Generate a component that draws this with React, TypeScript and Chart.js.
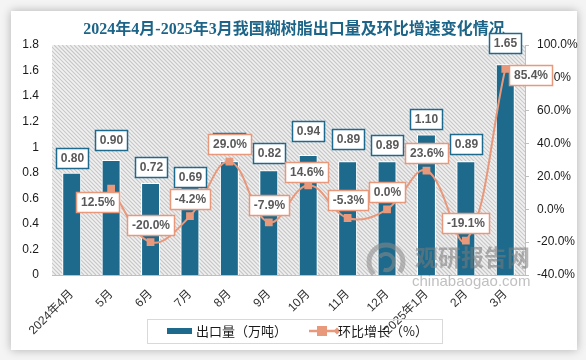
import React, { useEffect, useRef } from "react";
import { Chart, registerables } from "chart.js";

Chart.register(...registerables);

// ---------- data ----------
const chartTitle = "2024年4月-2025年3月我国糊树脂出口量及环比增速变化情况";
const categories = ["2024年4月", "5月", "6月", "7月", "8月", "9月", "10月", "11月", "12月", "2025年1月", "2月", "3月"];
const exportVolume = [0.8, 0.9, 0.72, 0.69, 0.89, 0.82, 0.94, 0.89, 0.89, 1.1, 0.89, 1.65];
const momGrowth: (number | null)[] = [null, 12.5, -20.0, -4.2, 29.0, -7.9, 14.6, -5.3, 0.0, 23.6, -19.1, 85.4];
const volumeTicks = [0, 0.2, 0.4, 0.6, 0.8, 1, 1.2, 1.4, 1.6, 1.8];
const growthTicks = [-40, -20, 0, 20, 40, 60, 80, 100];
const volumeName = "出口量（万吨）";
const growthName = "环比增长（%）";

// ---------- styles ----------
const BAR_COLOR = "#1D6A8D";
const LINE_COLOR = "#E8987B";
const TITLE_COLOR = "#1D6588";
const LABEL_TEXT = "#595959";
const AXIS_GRAY = "#BFBFBF";
// gap (px) between bar top and its label box, per bar
const barLabelGap = [5, 10, 6, 0, 8, 7, 14, 12, 6, 5, 7, 11];
// offset of growth label box centre relative to point
const lineLabelOffset = (i: number): [number, number] => {
  if (i === 1) return [-13.5, 13.5];
  if (i === 11) return [25, 6.5];
  if (i === 6) return [-1.5, -13];
  return [0, -17.5];
};

const LABEL_FONT = "bold 12px 'Liberation Sans', Arial, sans-serif";

function drawLabelBox(ctx: CanvasRenderingContext2D, cx: number, cy: number, text: string, border: string) {
  ctx.save();
  ctx.font = LABEL_FONT;
  const w = Math.round(ctx.measureText(text).width + 9);
  const h = 20;
  const x = Math.round(cx - w / 2) + 0.5;
  const y = Math.round(cy - h / 2) + 0.5;
  ctx.fillStyle = "#ffffff";
  ctx.fillRect(x, y, w, h);
  ctx.lineWidth = 1.5;
  ctx.strokeStyle = border;
  ctx.strokeRect(x, y, w, h);
  ctx.fillStyle = LABEL_TEXT;
  ctx.textAlign = "center";
  ctx.textBaseline = "middle";
  ctx.fillText(text, x + w / 2, y + h / 2 + 0.5);
  ctx.restore();
}

function drawHatch(ctx: CanvasRenderingContext2D, l: number, t: number, r: number, b: number) {
  ctx.save();
  ctx.beginPath();
  ctx.rect(l, t, r - l, b - t);
  ctx.clip();
  ctx.fillStyle = "#f1f1f1";
  ctx.fillRect(l, t, r - l, b - t);
  ctx.strokeStyle = "#c8c8c8";
  ctx.lineWidth = 1.2;
  ctx.beginPath();
  const h = b - t;
  for (let x0 = l - h - 4; x0 < r + 4; x0 += 4) {
    ctx.moveTo(x0, t);
    ctx.lineTo(x0 + h, b);
  }
  ctx.stroke();
  ctx.restore();
}

const decorPlugin = {
  id: "decor",
  beforeDraw(chart: any) {
    const ctx: CanvasRenderingContext2D = chart.ctx;
    const { width, height, chartArea } = chart;
    ctx.save();
    ctx.fillStyle = "#f4f4f4";
    ctx.fillRect(0, 0, width, height);
    ctx.shadowColor = "rgba(0,0,0,0.28)";
    ctx.shadowBlur = 9;
    ctx.fillStyle = "#ffffff";
    ctx.fillRect(11, 11, 566, 339);
    ctx.restore();

    drawHatch(ctx, chartArea.left, chartArea.top, chartArea.right, chartArea.bottom);

    // title
    ctx.save();
    ctx.font = "bold 16px 'Liberation Serif', 'Noto Sans CJK SC', serif";
    ctx.fillStyle = TITLE_COLOR;
    ctx.textAlign = "center";
    ctx.textBaseline = "middle";
    ctx.fillText(chartTitle, 294, 30);
    ctx.restore();
  },
  beforeDatasetDraw(chart: any, args: any) {
    if (args.meta.type === "bar") {
      chart.ctx.save();
      chart.ctx.shadowColor = "rgba(255,255,255,1)";
      chart.ctx.shadowBlur = 6;
    }
  },
  afterDatasetDraw(chart: any, args: any) {
    if (args.meta.type === "bar") chart.ctx.restore();
  },
  afterDatasetsDraw(chart: any) {
    const ctx: CanvasRenderingContext2D = chart.ctx;
    // watermark
    ctx.save();
    ctx.globalAlpha = 0.55;
    ctx.strokeStyle = "#8a8a8a";
    ctx.lineWidth = 5;
    ctx.beginPath();
    ctx.arc(386, 262, 17, Math.PI * 0.75, Math.PI * 2.2);
    ctx.stroke();
    ctx.lineWidth = 4;
    ctx.beginPath();
    ctx.arc(386, 262, 8, Math.PI * 1.2, Math.PI * 2.6);
    ctx.stroke();
    ctx.fillStyle = "#7a7a7a";
    ctx.font = "bold 23px 'Noto Sans CJK SC', sans-serif";
    ctx.textAlign = "left";
    ctx.textBaseline = "middle";
    ctx.fillText("观研报告网", 415, 257);
    ctx.font = "15px 'Liberation Sans', Arial, sans-serif";
    ctx.fillStyle = "#8c8c8c";
    ctx.fillText("chinabaogao.com", 412, 282);
    ctx.restore();

    const barMeta = chart.getDatasetMeta(0);
    barMeta.data.forEach((el: any, i: number) => {
      const cy = el.y - barLabelGap[i] - 10;
      drawLabelBox(ctx, el.x, cy, exportVolume[i].toFixed(2), BAR_COLOR);
    });
    const lineMeta = chart.getDatasetMeta(1);
    lineMeta.data.forEach((el: any, i: number) => {
      const v = momGrowth[i];
      if (v === null || v === undefined) return;
      const [dx, dy] = lineLabelOffset(i);
      drawLabelBox(ctx, el.x + dx, el.y + dy, v.toFixed(1) + "%", LINE_COLOR);
    });
  },
  afterDraw(chart: any) {
    const ctx: CanvasRenderingContext2D = chart.ctx;
    ctx.save();
    ctx.strokeStyle = "#d9d9d9";
    ctx.lineWidth = 1;
    ctx.strokeRect(147.5, 319.5, 295, 24);
    ctx.fillStyle = BAR_COLOR;
    ctx.fillRect(167, 328, 25, 6);
    ctx.font = "13px 'Noto Sans CJK SC', sans-serif";
    ctx.fillStyle = "#1a1a1a";
    ctx.textBaseline = "middle";
    ctx.textAlign = "left";
    ctx.fillText(volumeName, 196, 331.5);
    ctx.strokeStyle = LINE_COLOR;
    ctx.lineWidth = 2.5;
    ctx.beginPath();
    ctx.moveTo(309, 331);
    ctx.lineTo(337, 331);
    ctx.stroke();
    ctx.fillStyle = LINE_COLOR;
    ctx.fillRect(317, 326, 10, 10);
    ctx.beginPath();
    ctx.moveTo(337, 327.5);
    ctx.lineTo(340.5, 331);
    ctx.lineTo(337, 334.5);
    ctx.lineTo(333.5, 331);
    ctx.closePath();
    ctx.fill();
    ctx.fillStyle = "#1a1a1a";
    ctx.fillText(growthName, 338, 331.5);
    ctx.restore();
  },
};

export default function App() {
  const ref = useRef<HTMLCanvasElement | null>(null);
  useEffect(() => {
    if (!ref.current) return;
    const tickFont = { family: "'Liberation Sans', 'Noto Sans CJK SC', Arial, sans-serif", size: 12 };
    const chart = new Chart(ref.current, {
      type: "bar",
      data: {
        labels: categories,
        datasets: [
          {
            type: "bar",
            label: volumeName,
            data: exportVolume,
            backgroundColor: BAR_COLOR,
            borderColor: "#ffffff",
            borderWidth: 1,
            borderSkipped: "bottom",
            yAxisID: "y",
            categoryPercentage: 1,
            barPercentage: 0.48,
            order: 2,
          } as any,
          {
            type: "line",
            label: growthName,
            data: momGrowth,
            borderColor: LINE_COLOR,
            backgroundColor: LINE_COLOR,
            borderWidth: 2,
            tension: 0.4,
            pointStyle: "rect",
            pointRadius: 5.5,
            pointBorderWidth: 0,
            yAxisID: "y1",
            order: 1,
          } as any,
        ],
      },
      options: {
        responsive: false,
        animation: false,
        layout: { padding: { top: 45, left: 0, right: 0, bottom: 0 } },
        plugins: { legend: { display: false }, tooltip: { enabled: false }, title: { display: false } },
        scales: {
          x: {
            type: "category",
            offset: true,
            grid: { display: false },
            border: { display: true, color: AXIS_GRAY, width: 1 },
            ticks: {
              minRotation: 45,
              maxRotation: 45,
              autoSkip: false,
              padding: 4,
              color: "#333333",
              font: tickFont,
            },
            afterFit: (s: any) => {
              s.height = 85;
            },
          },
          y: {
            position: "left",
            min: 0,
            max: 1.8,
            grid: { display: false, drawTicks: false },
            border: { display: false },
            ticks: {
              padding: 13,
              color: "#1a1a1a",
              font: tickFont,
              callback: (v: any) => String(Number(Number(v).toFixed(1))),
            },
            afterBuildTicks: (s: any) => {
              s.ticks = volumeTicks.map((v) => ({ value: v }));
            },
            afterFit: (s: any) => {
              s.width = 52;
            },
          },
          y1: {
            position: "right",
            min: -40,
            max: 100,
            grid: { drawOnChartArea: false, drawTicks: true, tickLength: 4, color: AXIS_GRAY },
            border: { display: true, color: AXIS_GRAY },
            ticks: {
              padding: 8,
              color: "#1a1a1a",
              font: tickFont,
              callback: (v: any) => Number(v).toFixed(1) + "%",
            },
            afterBuildTicks: (s: any) => {
              s.ticks = growthTicks.map((v) => ({ value: v }));
            },
            afterFit: (s: any) => {
              s.width = 61;
            },
          },
        },
      } as any,
      plugins: [decorPlugin as any],
    });
    return () => chart.destroy();
  }, []);
  return (
    <div style={{ position: "fixed", left: 0, top: 0, width: 586, height: 360 }}>
      <canvas ref={ref} width={586} height={360} style={{ display: "block" }} />
    </div>
  );
}
